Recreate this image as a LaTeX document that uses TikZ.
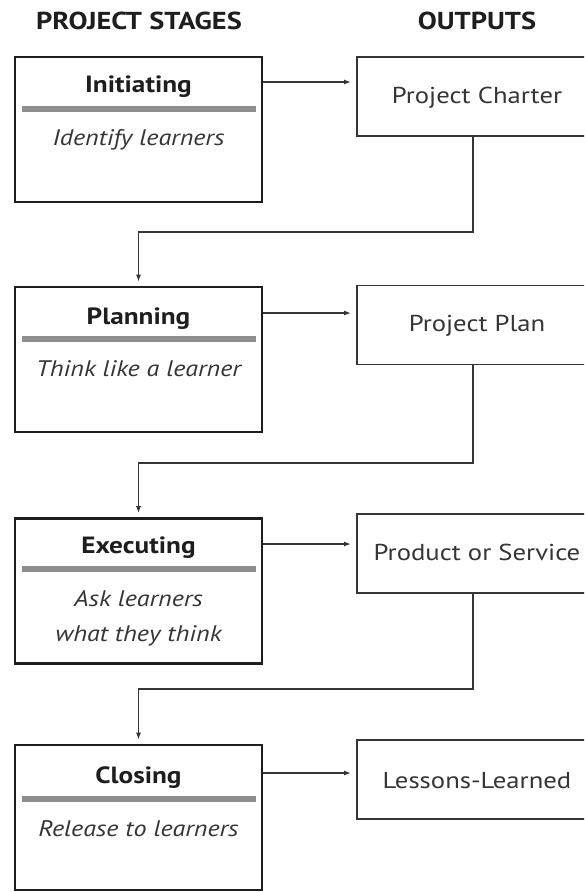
\documentclass[tikz,border=0pt]{standalone}
\usepackage{fontspec}
\setmainfont{PT Sans}[FakeStretch=1.16]
\usetikzlibrary{arrows.meta}
\definecolor{ink}{HTML}{1E1E1E}
\definecolor{soft}{HTML}{353535}
\definecolor{barg}{HTML}{8E8E8E}
\tikzset{
  stagebox/.style={draw=ink, line width=2.6pt, minimum width=247pt, minimum height=145pt, inner sep=0pt},
  outbox/.style={draw=soft, line width=1.9pt, minimum width=240pt, minimum height=79pt, inner sep=0pt},
  stitle/.style={font=\fontsize{23.5}{26}\selectfont\bfseries, text=ink, anchor=base, inner sep=0pt},
  sdesc/.style={font=\fontsize{22.5}{31}\selectfont\itshape, text=soft, anchor=base, inner sep=0pt, align=center},
  otext/.style={font=\fontsize{23}{26}\selectfont, text=soft, anchor=base, inner sep=0pt},
  head/.style={font=\fontsize{24.5}{26}\selectfont\bfseries, text=ink, anchor=base, inner sep=0pt},
  sbar/.style={draw=barg, line width=6pt},
  conn/.style={draw=soft, line width=1.5pt},
  arr/.style={conn, -{Latex[length=7pt,width=5pt]}, shorten >=5pt},
}
\begin{document}
\begin{tikzpicture}[x=1pt, y=-1pt]
\useasboundingbox (0,0) rectangle (584,892);
\clip (0,0) rectangle (584,892);
\fill[white] (0,0) rectangle (584,892);

% headers
\node[head] (h1) at (139,29) {PROJECT STAGES};
\node[head] (h2) at (477,29) {OUTPUTS};

% stage boxes
\node[stagebox] (s1) at (138.5,129.5) {};
\node[stagebox] (s2) at (138.5,359.5) {};
\node[stagebox] (s3) at (138.5,591) {};
\node[stagebox] (s4) at (138.5,817.5) {};

% titles
\node[stitle] (t1) at (138.5,92) {Initiating};
\node[stitle] (t2) at (138.5,324) {Planning};
\node[stitle] (t3) at (138.5,553) {Executing};
\node[stitle] (t4) at (138.5,783) {Closing};

% bars
\draw[sbar] (22,109) -- (256,109);
\draw[sbar] (22,339) -- (256,339);
\draw[sbar] (22,569) -- (256,569);
\draw[sbar] (22,799) -- (256,799);

% descriptions
\node[sdesc] (d1) at (138.5,145) {Identify learners};
\node[sdesc] (d2) at (138.5,376) {Think like a learner};
\node[sdesc] (d3a) at (138.5,606) {Ask learners};
\node[sdesc] (d3b) at (138.5,641) {what they think};
\node[sdesc] (d4) at (138.5,836) {Release to learners};

% output boxes
\node[outbox] (o1) at (477,96.5) {};
\node[outbox] (o2) at (477,325) {};
\node[outbox] (o3) at (477,553.5) {};
\node[outbox] (o4) at (477,779.5) {};
\node[otext] (ot1) at (477,103.5) {Project Charter};
\node[otext] (ot2) at (477,331.5) {Project Plan};
\node[otext] (ot3) at (477,560.5) {Product or Service};
\node[otext] (ot4) at (477,788.5) {Lessons-Learned};

% horizontal arrows
\coordinate (a1) at (0,82);
\coordinate (a2) at (0,313);
\coordinate (a3) at (0,544);
\coordinate (a4) at (0,773);
\draw[arr] (a1 -| s1.east) -- (a1 -| o1.west);
\draw[arr] (a2 -| s2.east) -- (a2 -| o2.west);
\draw[arr] (a3 -| s3.east) -- (a3 -| o3.west);
\draw[arr] (a4 -| s4.east) -- (a4 -| o4.west);

% return connectors
\coordinate (j1) at (473,232);
\coordinate (j2) at (473,463);
\coordinate (j3) at (473,689);
\draw[arr, shorten >=4pt] (j1 |- o1.south) -- (j1) -| (s2.north);
\draw[arr, shorten >=4pt] (j2 |- o2.south) -- (j2) -| (s3.north);
\draw[arr, shorten >=4pt] (j3 |- o3.south) -- (j3) -| (s4.north);
\end{tikzpicture}
\end{document}
